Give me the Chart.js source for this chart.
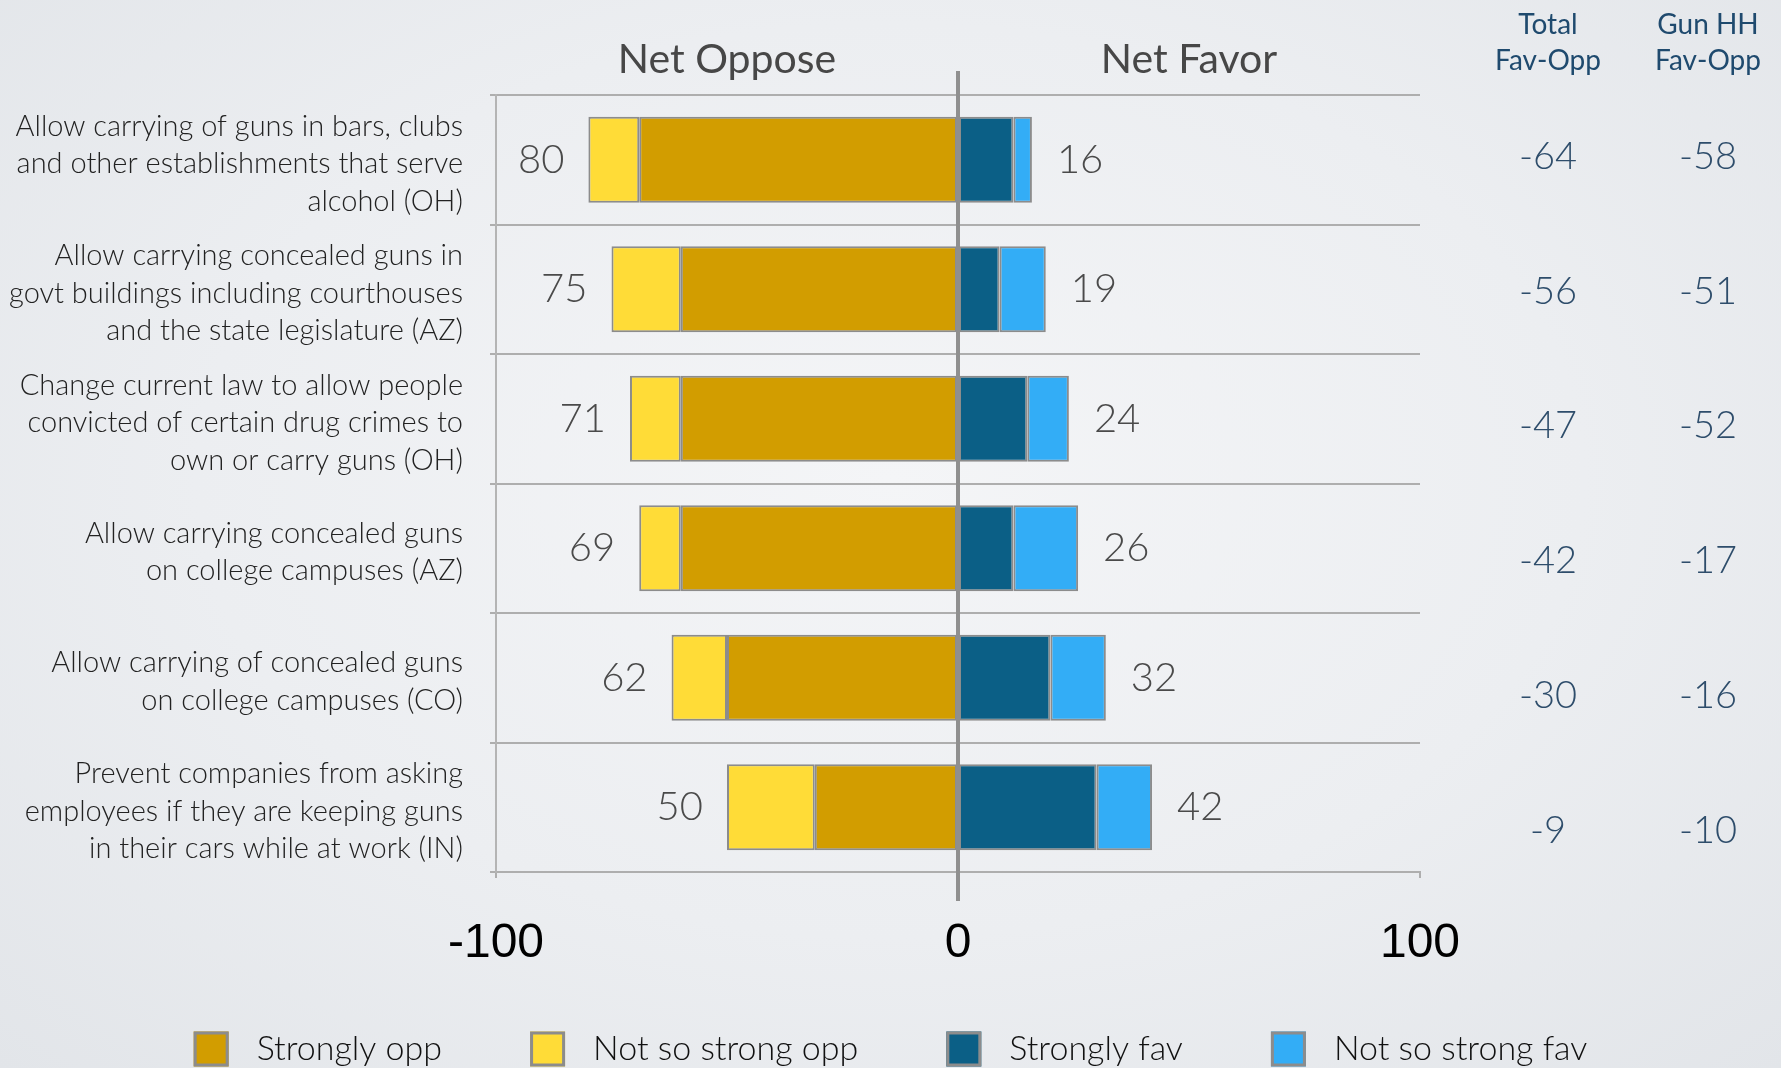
<!DOCTYPE html>
<html><head><meta charset="utf-8">
<script src="https://cdn.jsdelivr.net/npm/chart.js@4.4.0/dist/chart.umd.min.js"></script>
<style>
html,body{margin:0;padding:0;width:1781px;height:1068px;overflow:hidden;}
body{background: radial-gradient(ellipse at 50% 45%, #f4f5f7 0%, #eceef1 55%, #e2e5e9 100%);}
canvas{display:block;}
</style></head><body>
<canvas id="c" width="1781" height="1068"></canvas>
<script>
// ---- data ----
const categories = [
  ["Allow carrying of guns in bars, clubs", "and other establishments that serve", "alcohol (OH)"],
  ["Allow carrying concealed guns in", "govt buildings including courthouses", "and the state legislature (AZ)"],
  ["Change current law to allow people", "convicted of certain drug crimes to", "own or carry guns (OH)"],
  ["Allow carrying concealed guns", "on college campuses (AZ)"],
  ["Allow carrying of concealed guns", "on college campuses (CO)"],
  ["Prevent companies from asking", "employees if they are keeping guns", "in their cars while at work (IN)"]
];
const seriesNames = ["Strongly opp", "Not so strong opp", "Strongly fav", "Not so strong fav"];
const strongOpp    = [69, 60, 60, 60, 50, 31];
const notStrongOpp = [11, 15, 11,  9, 12, 19];
const strongFav    = [12,  9, 15, 12, 20, 30];
const notStrongFav = [ 4, 10,  9, 14, 12, 12];
const oppTotals = [80, 75, 71, 69, 62, 50];
const favTotals = [16, 19, 24, 26, 32, 42];
const totalNet  = [-64, -56, -47, -42, -30, -9];
const gunHHNet  = [-58, -51, -52, -17, -16, -10];
const xTicks = [-100, 0, 100];
const sideHeaders = ["Net Oppose", "Net Favor"];
const colHeaders = [["Total", "Fav-Opp"], ["Gun HH", "Fav-Opp"]];

// ---- styles ----
const colors = ["#D29D00", "#FFDC37", "#0B5F86", "#33ADF6"];
const borderGray = "#8C8C8C";
const gridGray = "#AEAEAE";
const FONT = "Lato";

const neg = a => a.map(v => -v);
const seriesData = [neg(strongOpp), neg(notStrongOpp), strongFav, notStrongFav];

const annotations = {
  id: "annotations",
  afterDatasetsDraw(chart) {
    const {ctx, chartArea: ca, scales: {x, y}} = chart;
    ctx.save();
    // zero line
    const x0 = x.getPixelForValue(0);
    ctx.strokeStyle = "#8F8F8F";
    ctx.lineWidth = 4;
    ctx.beginPath();
    ctx.moveTo(x0, ca.top - 24);
    ctx.lineTo(x0, ca.bottom + 29);
    ctx.stroke();

    // value labels
    ctx.font = `300 40px ${FONT}`;
    ctx.fillStyle = "#4a4a4a";
    ctx.textBaseline = "middle";
    categories.forEach((c, i) => {
      const yc = y.getPixelForValue(i);
      ctx.textAlign = "right";
      ctx.fillText(String(oppTotals[i]), x.getPixelForValue(-oppTotals[i]) - 24, yc);
      ctx.textAlign = "left";
      ctx.fillText(String(favTotals[i]), x.getPixelForValue(favTotals[i]) + 25, yc);
    });

    // side headers
    ctx.font = `400 41px ${FONT}`;
    ctx.fillStyle = "#474747";
    ctx.textAlign = "center";
    ctx.fillText(sideHeaders[0], x.getPixelForValue(-50), ca.top - 35);
    ctx.fillText(sideHeaders[1], x.getPixelForValue(50), ca.top - 35);

    // right columns
    const colX = [ca.right + 128, ca.right + 288];
    ctx.fillStyle = "#1F4A6E";
    ctx.font = `400 28px ${FONT}`;
    colHeaders.forEach((h, k) => {
      ctx.fillText(h[0], colX[k], 25);
      ctx.fillText(h[1], colX[k], 61);
    });
    ctx.font = `300 38px ${FONT}`;
    ctx.fillStyle = "#2E4D6B";
    categories.forEach((c, i) => {
      const yc = y.getPixelForValue(i) + (i * 5.2 - 3);
      ctx.fillText(String(totalNet[i]), colX[0], yc);
      ctx.fillText(String(gunHHNet[i]), colX[1], yc);
    });

    // legend
    ctx.font = `300 34px ${FONT}`;
    const box = 35, gapText = 28, gapItem = 88;
    const widths = seriesNames.map(n => box + gapText + ctx.measureText(n).width);
    const total = widths.reduce((a, b) => a + b, 0) + gapItem * (widths.length - 1);
    let lx = (chart.width - total) / 2;
    const ly = 1049;
    seriesNames.forEach((n, k) => {
      ctx.fillStyle = colors[k];
      ctx.fillRect(lx, ly - box / 2, box, box);
      ctx.strokeStyle = borderGray;
      ctx.lineWidth = 3;
      ctx.strokeRect(lx + 1.5, ly - box / 2 + 1.5, box - 3, box - 3);
      ctx.fillStyle = "#111";
      ctx.textAlign = "left";
      ctx.fillText(n, lx + box + gapText, ly);
      lx += widths[k] + gapItem;
    });
    ctx.restore();
  }
};

new Chart(document.getElementById("c"), {
  type: "bar",
  data: {
    labels: categories,
    datasets: seriesNames.map((n, k) => ({
      label: n,
      data: seriesData[k],
      backgroundColor: colors[k],
      borderColor: borderGray,
      borderWidth: 2,
      borderSkipped: false,
      categoryPercentage: 1,
      barPercentage: 0.665
    }))
  },
  options: {
    indexAxis: "y",
    responsive: false,
    devicePixelRatio: 1,
    animation: false,
    layout: {padding: {top: 95, right: 361, bottom: 96, left: 0}},
    plugins: {legend: {display: false}, tooltip: {enabled: false}},
    scales: {
      x: {
        stacked: true,
        min: -100, max: 100,
        afterBuildTicks: s => { s.ticks = xTicks.map(v => ({value: v})); },
        afterFit: s => { s.height = 100; },
        grid: {drawOnChartArea: false, drawTicks: true, tickLength: 6, color: gridGray, lineWidth: 2},
        border: {display: true, color: gridGray, width: 2},
        ticks: {
          padding: 37,
          color: "#000",
          font: {family: "Liberation Sans", size: 48},
          callback: v => String(v),
          maxRotation: 0
        }
      },
      y: {
        stacked: true,
        afterFit: s => { s.width = 496; },
        grid: {offset: true, drawTicks: true, tickLength: 6, color: gridGray, lineWidth: 2},
        border: {display: true, color: "#B4B4B4", width: 2},
        ticks: {
          padding: 27,
          labelOffset: 4,
          color: "#222",
          font: {family: FONT, size: 29, weight: 300, lineHeight: 1.29}
        }
      }
    }
  },
  plugins: [annotations]
});
</script>
</body></html>
